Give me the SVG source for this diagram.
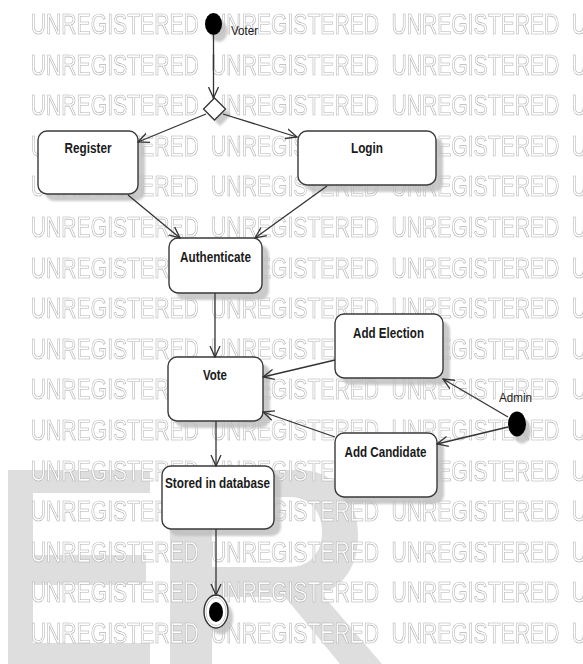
<svg xmlns="http://www.w3.org/2000/svg" xmlns:xlink="http://www.w3.org/1999/xlink" width="583" height="664" viewBox="0 0 583 664">
<style>
.wm{font-family:"Liberation Sans",Arial,sans-serif;font-size:29px;fill:#ffffff;stroke:#b0b0b0;stroke-width:0.7}
.box{fill:#ffffff;stroke:#3a3a3a;stroke-width:1.4}
.shadow{fill:#bdbdbd;opacity:0.8}
.lbl{font-family:"Liberation Sans",Arial,sans-serif;font-size:14.5px;font-weight:bold;fill:#1a1a1a;text-anchor:middle}
.small{font-family:"Liberation Sans",Arial,sans-serif;font-size:12px;fill:#1a1a1a}
.conn{fill:none;stroke:#333333;stroke-width:1.3}
</style>
<defs>
<filter id="blur" x="-20%" y="-20%" width="140%" height="140%"><feGaussianBlur stdDeviation="1.2"/></filter>
<marker id="arr" viewBox="0 0 12 12" refX="11" refY="6" markerWidth="12" markerHeight="12" markerUnits="userSpaceOnUse" orient="auto">
<path d="M0,1 L11,6 L0,11" fill="none" stroke="#333333" stroke-width="1.3"/>
</marker>
<g id="wmrow">
<text class="wm" x="30.8" y="0" textLength="168" lengthAdjust="spacingAndGlyphs">UNREGISTERED</text>
<text class="wm" x="211.1" y="0" textLength="168" lengthAdjust="spacingAndGlyphs">UNREGISTERED</text>
<text class="wm" x="391.4" y="0" textLength="168" lengthAdjust="spacingAndGlyphs">UNREGISTERED</text>
<text class="wm" x="571.7" y="0" textLength="15" lengthAdjust="spacingAndGlyphs">U</text>
</g>
</defs>
<rect x="0" y="0" width="583" height="664" fill="#ffffff"/>
<g id="big-letters" fill="#dedede" fill-rule="evenodd">
<path d="M8,470 H150 V493 H33 V555 H146 V585 H33 V643 H150 V664 H8 Z"/>
<path d="M170,470 H300 C335,470 358,500 358,535 C358,565 345,585 322,594 L382,664 H340 L285,597 H212 V664 H170 Z M212,497 V567 H290 C310,567 322,552 322,532 C322,512 310,497 290,497 Z"/>
</g>
<g id="watermark" opacity="0.99">
<use xlink:href="#wmrow" y="34"/>
<use xlink:href="#wmrow" y="74.6"/>
<use xlink:href="#wmrow" y="115.2"/>
<use xlink:href="#wmrow" y="155.8"/>
<use xlink:href="#wmrow" y="196.4"/>
<use xlink:href="#wmrow" y="237"/>
<use xlink:href="#wmrow" y="277.6"/>
<use xlink:href="#wmrow" y="318.2"/>
<use xlink:href="#wmrow" y="358.8"/>
<use xlink:href="#wmrow" y="399.4"/>
<use xlink:href="#wmrow" y="440"/>
<use xlink:href="#wmrow" y="480.6"/>
<use xlink:href="#wmrow" y="521.2"/>
<use xlink:href="#wmrow" y="561.8"/>
<use xlink:href="#wmrow" y="602.4"/>
<use xlink:href="#wmrow" y="643"/>
</g>
<g id="voter-start">
<ellipse class="shadow" cx="219" cy="31" rx="8.5" ry="11" filter="url(#blur)"/>
<ellipse cx="213.5" cy="24" rx="8.5" ry="11" fill="#000000"/>
<text class="small" x="231" y="35" textLength="27" lengthAdjust="spacingAndGlyphs">Voter</text>
</g>
<g id="decision">
<path class="shadow" d="M220,104 L231,115 L220,126 L209,115 Z" filter="url(#blur)"/>
<path d="M214.5,98 L225.5,109 L214.5,120 L203.5,109 Z" fill="#ffffff" stroke="#333333" stroke-width="1.3"/>
</g>
<g id="register">
<rect class="shadow" x="45" y="138" width="100" height="63" rx="9" filter="url(#blur)"/>
<rect class="box" x="38" y="131" width="100" height="63" rx="9"/>
<text class="lbl" x="88" y="153" textLength="47" lengthAdjust="spacingAndGlyphs">Register</text>
</g>
<g id="login">
<rect class="shadow" x="305" y="138" width="138" height="54" rx="9" filter="url(#blur)"/>
<rect class="box" x="298" y="131" width="138" height="54" rx="9"/>
<text class="lbl" x="367" y="153" textLength="32" lengthAdjust="spacingAndGlyphs">Login</text>
</g>
<g id="authenticate">
<rect class="shadow" x="176" y="245" width="93" height="55" rx="9" filter="url(#blur)"/>
<rect class="box" x="169" y="238" width="93" height="55" rx="9"/>
<text class="lbl" x="215.5" y="262" textLength="71" lengthAdjust="spacingAndGlyphs">Authenticate</text>
</g>
<g id="vote">
<rect class="shadow" x="175" y="364" width="95" height="64" rx="9" filter="url(#blur)"/>
<rect class="box" x="168" y="357" width="95" height="64" rx="9"/>
<text class="lbl" x="215" y="380" textLength="24" lengthAdjust="spacingAndGlyphs">Vote</text>
</g>
<g id="add-election">
<rect class="shadow" x="342" y="321" width="108" height="64" rx="9" filter="url(#blur)"/>
<rect class="box" x="335" y="314" width="108" height="64" rx="9"/>
<text class="lbl" x="388.5" y="338" textLength="71" lengthAdjust="spacingAndGlyphs">Add Election</text>
</g>
<g id="add-candidate">
<rect class="shadow" x="342" y="440" width="102" height="64" rx="9" filter="url(#blur)"/>
<rect class="box" x="335" y="433" width="102" height="64" rx="9"/>
<text class="lbl" x="385.5" y="457" textLength="82" lengthAdjust="spacingAndGlyphs">Add Candidate</text>
</g>
<g id="admin-start">
<ellipse class="shadow" cx="522" cy="431" rx="9" ry="12.5" filter="url(#blur)"/>
<ellipse cx="517" cy="424" rx="9" ry="12.5" fill="#000000"/>
<text class="small" x="499" y="402" textLength="33" lengthAdjust="spacingAndGlyphs">Admin</text>
</g>
<g id="stored">
<rect class="shadow" x="169" y="473" width="112" height="63" rx="9" filter="url(#blur)"/>
<rect class="box" x="162" y="466" width="112" height="63" rx="9"/>
<text class="lbl" x="217.5" y="488" textLength="105" lengthAdjust="spacingAndGlyphs">Stored in database</text>
</g>
<g id="final">
<ellipse class="shadow" cx="221" cy="618" rx="12" ry="16.5" filter="url(#blur)"/>
<ellipse cx="216" cy="611.5" rx="12" ry="16.5" fill="#ffffff" stroke="#333333" stroke-width="1.4"/>
<ellipse cx="216" cy="611.5" rx="10" ry="14" fill="none" stroke="#bbbbbb" stroke-width="0.8"/>
<ellipse cx="216" cy="612" rx="7" ry="10" fill="#000000"/>
</g>
<g id="connectors">
<line class="conn" x1="213.5" y1="35" x2="213.5" y2="98" marker-end="url(#arr)"/>
<line class="conn" x1="206" y1="114" x2="138" y2="142" marker-end="url(#arr)"/>
<line class="conn" x1="223" y1="114" x2="297" y2="137" marker-end="url(#arr)"/>
<line class="conn" x1="128" y1="195" x2="180" y2="238" marker-end="url(#arr)"/>
<line class="conn" x1="327" y1="186" x2="255" y2="238" marker-end="url(#arr)"/>
<line class="conn" x1="215" y1="293" x2="215" y2="357" marker-end="url(#arr)"/>
<line class="conn" x1="335" y1="360" x2="263" y2="377" marker-end="url(#arr)"/>
<line class="conn" x1="335" y1="437" x2="263" y2="412" marker-end="url(#arr)"/>
<line class="conn" x1="508" y1="417" x2="443" y2="379" marker-end="url(#arr)"/>
<line class="conn" x1="508" y1="427" x2="437" y2="444" marker-end="url(#arr)"/>
<line class="conn" x1="216" y1="421" x2="216" y2="466" marker-end="url(#arr)"/>
<line class="conn" x1="216" y1="529" x2="216" y2="595" marker-end="url(#arr)"/>
</g>
</svg>
